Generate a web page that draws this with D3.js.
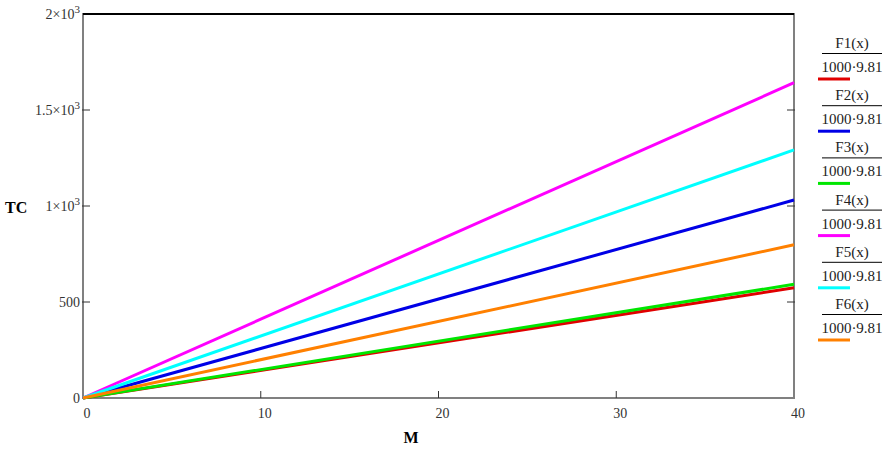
<!DOCTYPE html>
<html>
<head>
<meta charset="utf-8">
<script src="https://cdn.jsdelivr.net/npm/d3@7"></script>
<style>
  body { margin: 0; background: #fff; }
  svg { display: block; }
</style>
</head>
<body>
<div id="chart"></div>
<script>
// data
const xValues = [0, 40];
const seriesNames = ["F1(x)", "F2(x)", "F3(x)", "F4(x)", "F5(x)", "F6(x)"];
const seriesColors = ["#e00000", "#0000e6", "#00e600", "#ff00ff", "#00ffff", "#ff8000"];
const seriesValues = [
    [0, 574],
    [0, 1031],
    [0, 592],
    [0, 1642],
    [0, 1292],
    [0, 798]
];
const xTicks = [0, 10, 20, 30, 40];
const yTicks = [0, 500, 1000, 1500, 2000];
const yTickLabels = [["0", ""], ["500", ""], ["1×10", "3"], ["1.5×10", "3"], ["2×10", "3"]];
const legendDenominator = "1000·9.81";

const W = 889, H = 458;
const margin = { top: 14, right: 95, bottom: 60, left: 83 };
const width = W - margin.left - margin.right;
const height = H - margin.top - margin.bottom;
const serif = "'Liberation Serif', 'Times New Roman', serif";

const svg = d3.select("#chart").append("svg")
    .attr("width", W)
    .attr("height", H);

const g = svg.append("g")
    .attr("transform", `translate(${margin.left},${margin.top})`);

const x = d3.scaleLinear().domain([0, 40]).range([0, width]);
const y = d3.scaleLinear().domain([0, 2000]).range([height, 0]);

// frame: gray left/bottom/right, black top
g.append("rect")
    .attr("width", width).attr("height", height)
    .attr("fill", "none").attr("stroke", "#808080").attr("stroke-width", 2);
g.append("line")
    .attr("x1", 0).attr("x2", width).attr("y1", 0).attr("y2", 0)
    .attr("stroke", "#000").attr("stroke-width", 2);

// ticks (inward), drawn on left, right and bottom
g.selectAll(".ytick-l").data(yTicks.slice(1, 4)).enter().append("line")
    .attr("x1", -1).attr("x2", 7)
    .attr("y1", d => y(d)).attr("y2", d => y(d))
    .attr("stroke", "#333").attr("stroke-width", 1);
g.selectAll(".ytick-r").data(yTicks.slice(1, 4)).enter().append("line")
    .attr("x1", width - 7).attr("x2", width + 1)
    .attr("y1", d => y(d)).attr("y2", d => y(d))
    .attr("stroke", "#333").attr("stroke-width", 1);
g.selectAll(".xtick").data(xTicks.slice(1, 4)).enter().append("line")
    .attr("x1", d => x(d)).attr("x2", d => x(d))
    .attr("y1", height - 7).attr("y2", height)
    .attr("stroke", "#333").attr("stroke-width", 1);

// tick labels
g.selectAll(".xlab").data(xTicks).enter().append("text")
    .attr("x", d => x(d) + 4).attr("y", height + 20)
    .attr("text-anchor", "middle")
    .style("font-family", serif).style("font-size", "14px").style("fill", "#333")
    .text(d => d);

const yl = g.selectAll(".ylab").data(yTicks).enter().append("text")
    .attr("x", -3).attr("y", d => y(d) + 5)
    .attr("text-anchor", "end")
    .style("font-family", serif).style("font-size", "14px").style("fill", "#333");
yl.append("tspan").text((d, i) => yTickLabels[i][0]);
yl.append("tspan").attr("dy", -6).style("font-size", "11px").text((d, i) => yTickLabels[i][1]);

// axis titles
svg.append("text")
    .attr("x", 5).attr("y", 213)
    .style("font-family", serif).style("font-size", "16px").style("font-weight", "bold")
    .text("TC");
svg.append("text")
    .attr("x", 411).attr("y", 443)
    .attr("text-anchor", "middle")
    .style("font-family", serif).style("font-size", "16px").style("font-weight", "bold")
    .text("M");

// series lines
const line = d3.line()
    .x((d, i) => x(xValues[i]))
    .y(d => y(d));

g.selectAll(".series").data(seriesValues).enter().append("path")
    .attr("d", d => line(d))
    .attr("fill", "none")
    .attr("stroke", (d, i) => seriesColors[i])
    .attr("stroke-width", 3);

// legend
const legend = svg.append("g").attr("transform", "translate(818, 0)");
const item = legend.selectAll(".item").data(seriesNames).enter().append("g")
    .attr("transform", (d, i) => `translate(0, ${i * 52.2})`);
item.append("text")
    .attr("x", 34).attr("y", 48)
    .attr("text-anchor", "middle")
    .style("font-family", serif).style("font-size", "15px").style("fill", "#222")
    .text(d => d);
item.append("line")
    .attr("x1", 4).attr("x2", 64).attr("y1", 53.5).attr("y2", 53.5)
    .attr("stroke", "#000").attr("stroke-width", 1);
item.append("text")
    .attr("x", 34).attr("y", 72)
    .attr("text-anchor", "middle")
    .style("font-family", serif).style("font-size", "15px").style("fill", "#222")
    .text(legendDenominator);
item.append("line")
    .attr("x1", 0).attr("x2", 32).attr("y1", 79).attr("y2", 79)
    .attr("stroke", (d, i) => seriesColors[i]).attr("stroke-width", 3);
</script>
</body>
</html>
